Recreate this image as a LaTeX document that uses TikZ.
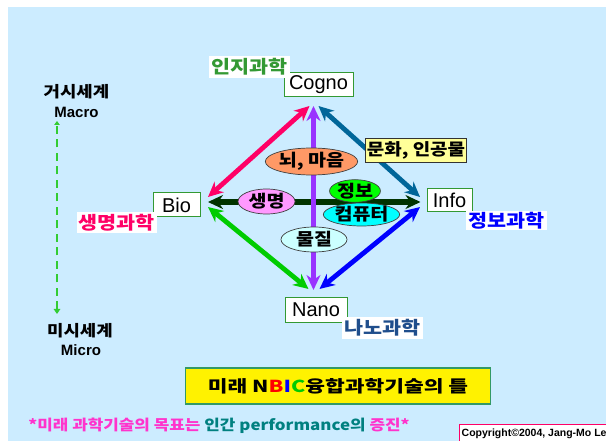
\documentclass[tikz,border=0pt]{standalone}
\usepackage{fontspec}
\setmainfont{Liberation Sans}
\newfontfamily\kr[FakeStretch=1.15]{Noto Sans CJK KR}
\newfontfamily\krw[FakeStretch=1.3]{Noto Sans CJK KR}
\usetikzlibrary{arrows.meta,shapes.geometric}
\definecolor{bgblue}{HTML}{CCECFF}
\definecolor{boxgreen}{HTML}{339933}
\definecolor{cpink}{HTML}{FF0066}
\definecolor{cpurple}{HTML}{9933FF}
\definecolor{cteal}{HTML}{006699}
\definecolor{cdkgreen}{HTML}{003300}
\definecolor{cgreen}{HTML}{00CC00}
\definecolor{cblue}{HTML}{0000FF}
\definecolor{nanoblue}{HTML}{1F4E8C}
\definecolor{dashgreen}{HTML}{33CC33}
\definecolor{cultyellow}{HTML}{FFFF99}
\definecolor{eorange}{HTML}{FF9966}
\definecolor{eviolet}{HTML}{FF99FF}
\definecolor{egreen}{HTML}{00FF00}
\definecolor{ecyan}{HTML}{00FFFF}
\definecolor{elcyan}{HTML}{CCFFFF}
\definecolor{titleborder}{HTML}{339966}
\definecolor{btpink}{HTML}{FF33CC}
\definecolor{btteal}{HTML}{008080}
\newcommand\myfs[1]{\fontsize{#1}{#1}\selectfont}
\begin{document}
\begin{tikzpicture}[x=1pt,y=-1pt,
  dbl/.style={line width=4.8pt, {Stealth[length=15pt,width=14pt]}-{Stealth[length=15pt,width=14pt]}},
  fieldbox/.style={draw=boxgreen, fill=white, line width=1pt, inner sep=0pt, font=\myfs{20}},
  fieldlab/.style={fill=white, inner sep=0pt, font=\kr\bfseries\myfs{18}},
  ell/.style={ellipse, draw=black!75, line width=0.7pt, inner sep=0pt, font=\kr\bfseries\myfs{17}},
  scalelab/.style={inner sep=0pt, font=\kr\bfseries\myfs{15.5}},
  scalelat/.style={inner sep=0pt, font=\bfseries\myfs{15}}
]
\useasboundingbox (0,0) rectangle (606,441);
\fill[white] (0,0) rectangle (606,441);
\fill[bgblue] (8,7) rectangle (606,441);

% arrow end points
\coordinate (pkT) at (309.5,106); \coordinate (pkL) at (208,197);
\coordinate (puT) at (313.5,106); \coordinate (puB) at (313.5,290);
\coordinate (tlT) at (318.5,106); \coordinate (tlR) at (420,197);
\coordinate (dgL) at (208,202); \coordinate (dgR) at (420.5,202);
\coordinate (grL) at (208,207); \coordinate (grB) at (308.5,289);
\coordinate (blR) at (420,207); \coordinate (blB) at (319.5,289);

\draw[dbl, cpink] (pkL) -- (pkT);
\draw[dbl, cteal] (tlT) -- (tlR);
\draw[dbl, cgreen] (grL) -- (grB);
\draw[dbl, cblue] (blR) -- (blB);
\draw[dbl, cdkgreen, line width=5.5pt] (dgL) -- (dgR);
\draw[dbl, cpurple, line width=5pt] (puT) -- (puB);

% ellipses
\node[ell, fill=eorange, minimum width=71pt, minimum height=27pt] (brain) at (311.5,161.5) {뇌, 마음};
\node[ell, fill=eviolet, minimum width=57pt, minimum height=25pt] (life) at (266.5,201.5) {생명};
\node[ell, fill=egreen, minimum width=44pt, minimum height=20pt] (info) at (355,191) {정보};
\node[ell, fill=ecyan, minimum width=58pt, minimum height=23pt] (comp) at (361.5,214.5) {컴퓨터};
\node[ell, fill=elcyan, minimum width=66pt, minimum height=25pt] (matter) at (314,239.5) {물질};

% culture box
\node[draw=black!80, line width=0.8pt, fill=cultyellow, inner sep=0pt, minimum width=101pt, minimum height=24pt, font=\kr\bfseries\myfs{16.5}] (culture) at (416,150) {문화, 인공물};

% field boxes
\node[fieldbox, minimum width=69pt, minimum height=24pt] (cogno) at (318.5,85) {Cogno};
\node[fieldbox, minimum width=47pt, minimum height=24pt] (bio) at (176.5,205) {Bio};
\node[fieldbox, minimum width=45pt, minimum height=23pt] (infobox) at (449.5,200.5) {Info};
\node[fieldbox, minimum width=62pt, minimum height=24pt] (nano) at (316,310) {Nano};

% field labels
\node[fieldlab, text=boxgreen, minimum width=81pt, minimum height=22pt] (coglab) at (249.5,67) {인지과학};
\node[fieldlab, text=cpink, minimum width=80pt, minimum height=21pt] (biolab) at (116.5,222.5) {생명과학};
\node[fieldlab, text=cblue, minimum width=81pt, minimum height=19pt] (infolab) at (506.5,220.5) {정보과학};
\node[fieldlab, text=nanoblue, minimum width=81pt, minimum height=22pt] (nanolab) at (382.5,328) {나노과학};

% macro / micro scale
\node[scalelab] (macrok) at (76.5,92) {거시세계};
\node[scalelat] (macro) at (76.5,112) {Macro};
\node[scalelab] (microk) at (80,331) {미시세계};
\node[scalelat] (micro) at (81,350) {Micro};
\coordinate (scT) at (57,121); \coordinate (scB) at (57,314);
\draw[dashgreen, line width=2.9pt, dash pattern=on 8pt off 5.5pt,
  {Triangle[length=5pt,width=6.5pt]}-{Triangle[length=4pt,width=5.5pt]}] (scB) -- (scT);

% title
\node[draw=titleborder, line width=1.5pt, fill=yellow, inner sep=0pt, minimum width=305pt, minimum height=36pt, font=\krw\bfseries\myfs{16.5}] (title) at (338,386)
  {미래 N\textcolor{red}{B}\textcolor{cblue}{I}\textcolor{cgreen}{C}융합과학기술의 틀};

% bottom line
\node[inner sep=0pt, font=\kr\bfseries\myfs{14.7}] (goal) at (219,426)
  {\textcolor{btpink}{*미래 과학기술의 목표는 }\textcolor{btteal}{인간 performance의 }\textcolor{btpink}{증진*}};

% copyright
\begin{scope}
\clip (0,0) rectangle (606,441);
\node[draw=cpink, line width=1.2pt, fill=white, anchor=north west, minimum width=160pt, minimum height=20pt, inner sep=0pt] (copybox) at (459,424) {};
\node[anchor=west, inner sep=0pt, font=\bfseries\myfs{10.5}] (copy) at (461.5,433.5) {Copyright©2004, Jang-Mo Lee};
\end{scope}
\end{tikzpicture}
\end{document}
